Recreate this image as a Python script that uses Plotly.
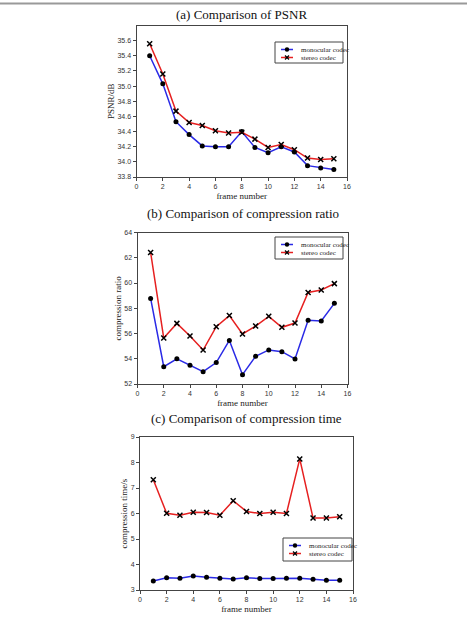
import plotly.graph_objects as go

frames = list(range(1, 16))

psnr_mono = [35.40, 35.03, 34.53, 34.36, 34.21, 34.20, 34.20, 34.40, 34.19, 34.12, 34.20, 34.13, 33.95, 33.92, 33.90]
psnr_stereo = [35.56, 35.16, 34.67, 34.52, 34.48, 34.41, 34.38, 34.39, 34.30, 34.19, 34.23, 34.16, 34.05, 34.03, 34.04]

ratio_mono = [58.78, 53.37, 54.00, 53.48, 52.98, 53.70, 55.45, 52.74, 54.19, 54.70, 54.56, 53.98, 57.05, 57.00, 58.39]
ratio_stereo = [62.42, 55.64, 56.80, 55.80, 54.69, 56.54, 57.42, 55.96, 56.59, 57.36, 56.49, 56.83, 59.25, 59.45, 59.95]

time_mono = [3.35, 3.48, 3.46, 3.55, 3.50, 3.46, 3.43, 3.48, 3.45, 3.45, 3.46, 3.46, 3.42, 3.38, 3.38]
time_stereo = [7.32, 6.01, 5.93, 6.05, 6.04, 5.93, 6.50, 6.08, 6.00, 6.05, 6.00, 8.14, 5.82, 5.82, 5.87]

titles = ["(a) Comparison of PSNR", "(b) Comparison of compression ratio", "(c) Comparison of compression time"]
ytitles = ["PSNR/dB", "compression ratio", "compression time/s"]
xticks = [0, 2, 4, 6, 8, 10, 12, 14, 16]
yticks = [
    [33.8, 34.0, 34.2, 34.4, 34.6, 34.8, 35.0, 35.2, 35.4, 35.6],
    [52, 54, 56, 58, 60, 62, 64],
    [3, 4, 5, 6, 7, 8, 9],
]
yranges = [[33.8, 35.8], [52, 64], [3, 9]]
mono_name = "monocular codec"
stereo_name = "stereo codec"

MONO_COLOR = "#2a2ae6"
STEREO_COLOR = "#e62020"

W, H = 467, 619
def py(p):
    return 1 - p / H
def px(p):
    return p / W

# pixel layout
ydoms = [(25.5, 177), (232.5, 384), (437, 590)]
xdoms = [(136.5, 347), (137.5, 347.5), (140, 353)]
title_y = [15, 213, 418]
legend_box = [(275, 42, 343, 63), (275, 237, 343, 259), (283, 538, 352, 561)]

SERIF = "Liberation Serif"
SANS = "Liberation Sans"

fig = go.Figure()
data = [(psnr_mono, psnr_stereo), (ratio_mono, ratio_stereo), (time_mono, time_stereo)]
layout = dict(
    width=W, height=H, autosize=False, margin=dict(l=0, r=0, t=0, b=0, autoexpand=False),
    paper_bgcolor="white", plot_bgcolor="white", showlegend=False,
)
annotations = []
shapes = [dict(type="line", xref="paper", yref="paper", x0=0, x1=1,
               y0=py(3.5), y1=py(3.5), line=dict(color="#999", width=2))]
for i in range(3):
    sfx = "" if i == 0 else str(i + 1)
    mono, stereo = data[i]
    fig.add_trace(go.Scatter(
        x=frames, y=mono, name=mono_name, mode="lines+markers",
        line=dict(color=MONO_COLOR, width=1.5),
        marker=dict(symbol="circle", size=5, color="black"),
        xaxis="x" + sfx, yaxis="y" + sfx,
    ))
    fig.add_trace(go.Scatter(
        x=frames, y=stereo, name=stereo_name, mode="lines+markers",
        line=dict(color=STEREO_COLOR, width=1.5),
        marker=dict(symbol="x-thin", size=5, color="black", line=dict(width=1.5, color="black")),
        xaxis="x" + sfx, yaxis="y" + sfx,
    ))
    x0, x1 = xdoms[i]
    y0, y1 = ydoms[i]
    common = dict(showgrid=False, zeroline=False, automargin=False,
                  showline=True, linecolor="#444", linewidth=1, mirror=True,
                  ticks="outside", ticklen=3, tickcolor="#444",
                  tickfont=dict(family=SANS, size=7, color="#333"))
    layout["xaxis" + sfx] = dict(
        domain=[px(x0), px(x1)], range=[0, 16], tickvals=xticks,
        anchor="y" + sfx,
        title=dict(text="frame number", font=dict(family=SERIF, size=9, color="#222"), standoff=3),
        **common,
    )
    layout["yaxis" + sfx] = dict(
        domain=[py(y1), py(y0)], range=yranges[i], tickvals=yticks[i],
        tickformat=".1f" if i == 0 else "d",
        anchor="x" + sfx,
        title=dict(text=ytitles[i], font=dict(family=SERIF, size=9, color="#222"), standoff=1),
        **common,
    )
    annotations.append(dict(
        text=titles[i], xref="paper", yref="paper",
        x=px((x0 + x1) / 2), y=py(title_y[i]), xanchor="center", yanchor="middle",
        showarrow=False, font=dict(family=SERIF, size=13, color="#111"),
    ))
    # legend box drawn manually
    bx0, by0, bx1, by1 = legend_box[i]
    shapes.append(dict(type="rect", xref="paper", yref="paper",
                       x0=px(bx0), x1=px(bx1), y0=py(by1), y1=py(by0),
                       line=dict(color="#444", width=1), fillcolor="white", layer="above"))
    rows = [(by0 + 7.5, MONO_COLOR, mono_name, "circle"), (by0 + 15.5, STEREO_COLOR, stereo_name, "x")]
    for ry, col, name, sym in rows:
        shapes.append(dict(type="line", xref="paper", yref="paper",
                           x0=px(bx0 + 6), x1=px(bx0 + 18), y0=py(ry), y1=py(ry),
                           line=dict(color=col, width=1.5), layer="above"))
        cx = bx0 + 12
        if sym == "circle":
            shapes.append(dict(type="circle", xref="paper", yref="paper",
                               x0=px(cx - 2.2), x1=px(cx + 2.2), y0=py(ry + 2.2), y1=py(ry - 2.2),
                               fillcolor="black", line=dict(color="black", width=0), layer="above"))
        else:
            for dy in (-2, 2):
                shapes.append(dict(type="line", xref="paper", yref="paper",
                                   x0=px(cx - 2), x1=px(cx + 2), y0=py(ry - dy), y1=py(ry + dy),
                                   line=dict(color="black", width=1.3), layer="above"))
        annotations.append(dict(
            text=name, xref="paper", yref="paper", x=px(bx0 + 24), y=py(ry),
            xanchor="left", yanchor="middle", showarrow=False,
            font=dict(family=SERIF, size=7, color="#222"),
        ))

layout["annotations"] = annotations
layout["shapes"] = shapes
fig.update_layout(**layout)
fig.write_html("out.html")
